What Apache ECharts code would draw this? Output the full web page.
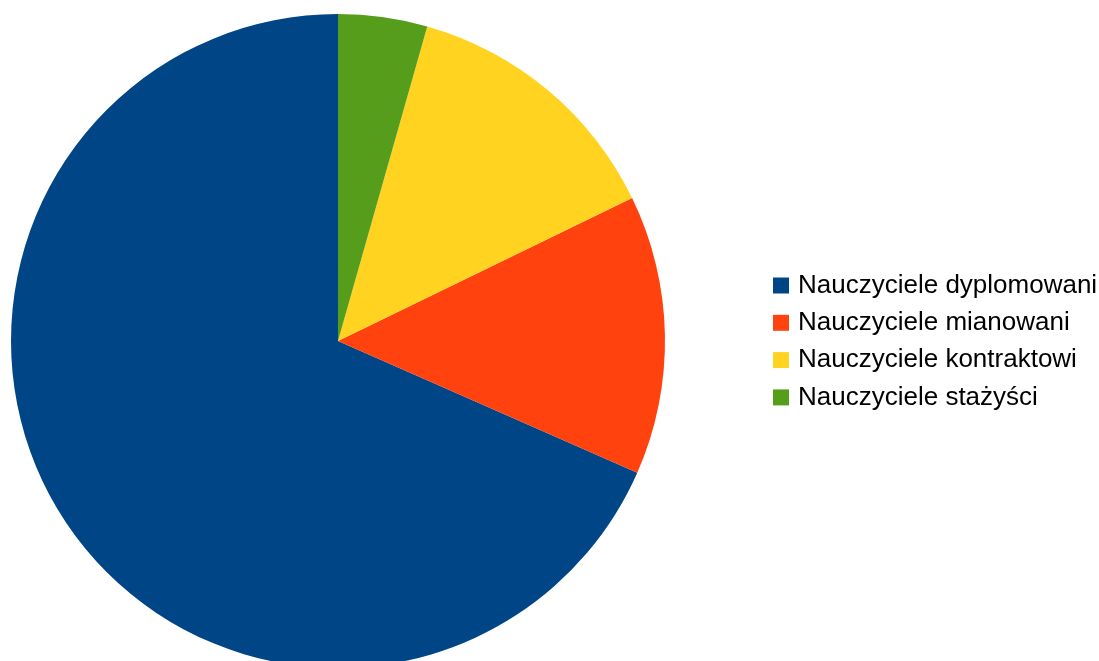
<!DOCTYPE html>
<html><head><meta charset="utf-8">
<script src="https://cdn.jsdelivr.net/npm/echarts@6/dist/echarts.min.js"></script>
<style>html,body{margin:0;padding:0;background:#fff}#c{width:1099px;height:661px}</style>
</head><body><div id="c"></div>
<script>
const categories = ['Nauczyciele dyplomowani','Nauczyciele mianowani','Nauczyciele kontraktowi','Nauczyciele stażyści'];
const values = [68.4, 13.8, 13.4, 4.4];
const colors = ['#004586','#ff420e','#ffd320','#579d1c'];
const chart = echarts.init(document.getElementById('c'));
chart.setOption({
  animation:false,
  color: colors,
  legend:{
    orient:'vertical', left:773, top:272.5, padding:0,
    itemWidth:16, itemHeight:16, itemGap:11.3,
    icon:'rect',
    textStyle:{fontFamily:'Liberation Sans', fontSize:26, color:'#000', padding:[0,0,0,4]},
    data: categories
  },
  series:[{
    type:'pie', center:[338,341], radius:327,
    startAngle:90, clockwise:false,
    label:{show:false}, labelLine:{show:false},
    emphasis:{disabled:true},
    itemStyle:{borderWidth:0},
    data: categories.map((n,i)=>({name:n, value:values[i]}))
  }]
});
</script></body></html>
